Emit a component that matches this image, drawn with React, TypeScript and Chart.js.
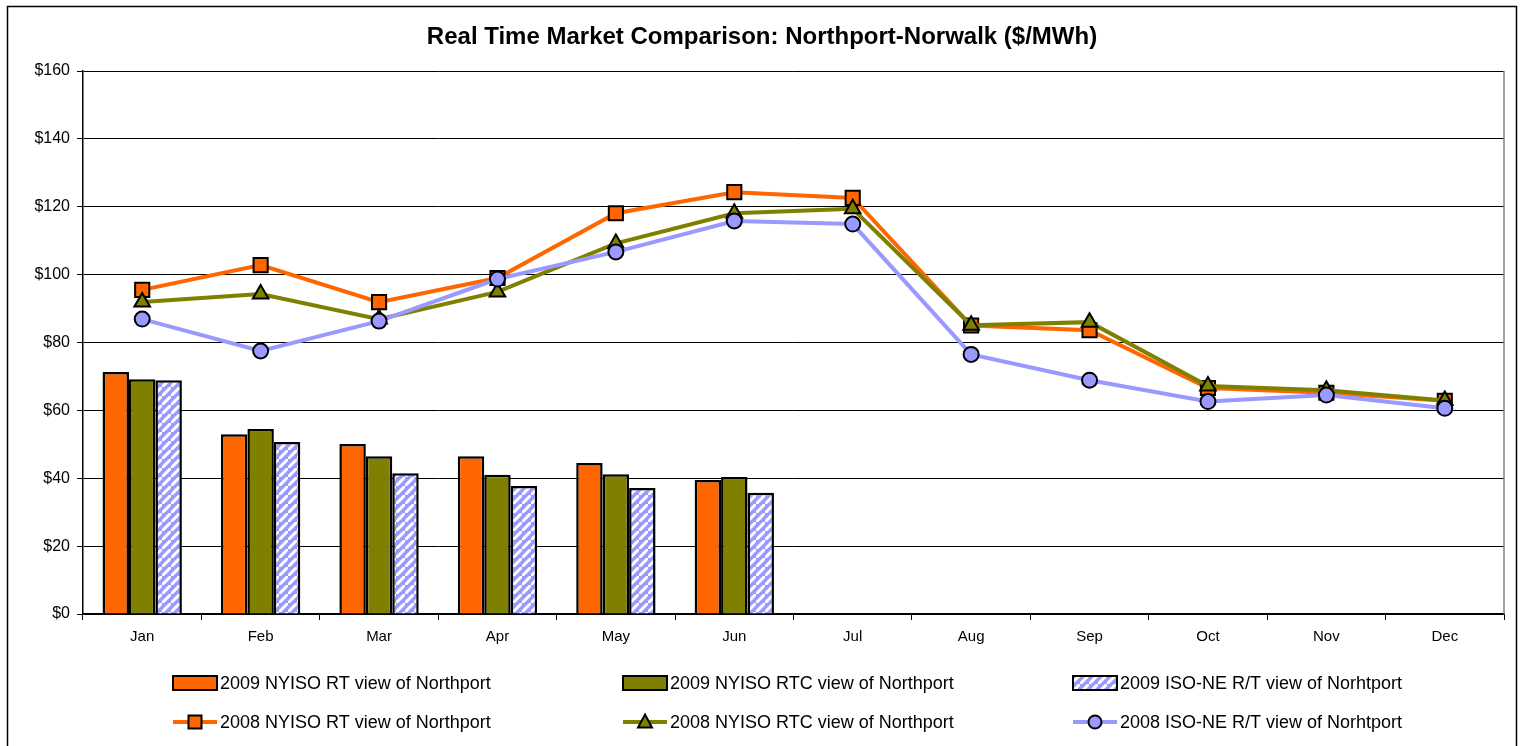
import React, { useEffect, useRef } from "react";
import { Chart, registerables } from "chart.js";

Chart.register(...registerables);

const months = ["Jan", "Feb", "Mar", "Apr", "May", "Jun", "Jul", "Aug", "Sep", "Oct", "Nov", "Dec"];
const yTicks = [0, 20, 40, 60, 80, 100, 120, 140, 160];

const rt2009 = [71.3, 53.0, 50.1, 46.5, 44.5, 39.5];
const rtc2009 = [69.2, 54.5, 46.5, 41.0, 41.2, 40.4];
const isone2009 = [68.9, 50.7, 41.5, 37.7, 37.1, 35.7];

const rt2008 = [95.5, 102.8, 91.9, 99.0, 118.1, 124.3, 122.6, 85.0, 83.6, 66.6, 65.2, 62.8];
const rtc2008 = [91.9, 94.3, 86.9, 94.9, 109.2, 118.1, 119.4, 85.1, 86.0, 67.2, 65.9, 62.9];
const isone2008 = [86.9, 77.5, 86.3, 98.7, 106.7, 115.8, 114.9, 76.5, 68.9, 62.6, 64.5, 60.6];

const labels2009 = [
  "2009 NYISO RT view of Northport",
  "2009 NYISO RTC view of Northport",
  "2009 ISO-NE R/T view of Norhtport",
];
const labels2008 = [
  "2008 NYISO RT view of Northport",
  "2008 NYISO RTC view of Northport",
  "2008 ISO-NE R/T view of Norhtport",
];

const ORANGE = "#FF6600";
const OLIVE = "#808000";
const LAV = "#9999FF";
const FONT = "Liberation Sans, Arial, sans-serif";

function makeHatch(): CanvasPattern | string {
  const c = document.createElement("canvas");
  const n = 9;
  c.width = n;
  c.height = n;
  const g = c.getContext("2d");
  if (!g) return LAV;
  g.fillStyle = LAV;
  g.fillRect(0, 0, n, n);
  g.strokeStyle = "#ffffff";
  g.lineWidth = 3;
  g.beginPath();
  g.moveTo(-2, n + 2);
  g.lineTo(n + 2, -2);
  g.moveTo(-n - 2, n + 2 - n);
  g.lineTo(n + 2 - n, -2 - n);
  g.moveTo(-2 + n, n + 2 + n);
  g.lineTo(n + 2 + n, -2 + n);
  g.stroke();
  const p = g.createPattern(c, "repeat");
  return p || LAV;
}

function drawMarker(ctx: CanvasRenderingContext2D, style: string, x: number, y: number, fill: string) {
  ctx.save();
  ctx.fillStyle = fill;
  ctx.strokeStyle = "#000";
  ctx.lineWidth = 2;
  ctx.beginPath();
  if (style === "rect") {
    ctx.rect(x - 6.5, y - 6.5, 13, 13);
  } else if (style === "triangle") {
    ctx.moveTo(x, y - 7.5);
    ctx.lineTo(x + 7, y + 5.5);
    ctx.lineTo(x - 7, y + 5.5);
    ctx.closePath();
  } else {
    ctx.arc(x, y, 6.5, 0, Math.PI * 2);
  }
  ctx.fill();
  ctx.stroke();
  ctx.restore();
}

export default function App() {
  const ref = useRef<HTMLCanvasElement | null>(null);

  useEffect(() => {
    const canvas = ref.current;
    if (!canvas) return;
    const hatch = makeHatch();

    const framePlugin = {
      id: "frame",
      beforeDraw(chart: any) {
        const ctx = chart.ctx;
        ctx.save();
        ctx.fillStyle = "#fff";
        ctx.fillRect(0, 0, chart.width, chart.height);
        ctx.strokeStyle = "#000";
        ctx.lineWidth = 1.5;
        ctx.strokeRect(7.5, 6.5, 1509, 760);
        ctx.fillStyle = "#000";
        ctx.font = `bold 24px ${FONT}`;
        ctx.textAlign = "center";
        ctx.textBaseline = "middle";
        ctx.fillText("Real Time Market Comparison: Northport-Norwalk ($/MWh)", 762, 37);
        ctx.restore();
      },
      afterDraw(chart: any) {
        const ctx = chart.ctx;
        const a = chart.chartArea;
        ctx.save();
        ctx.strokeStyle = "#808080";
        ctx.lineWidth = 1.5;
        ctx.beginPath();
        ctx.moveTo(a.right, a.top);
        ctx.lineTo(a.right, a.bottom);
        ctx.stroke();

        // legend
        const cols = [173, 623, 1073];
        const rows = [683, 722];
        ctx.font = `18px ${FONT}`;
        ctx.textBaseline = "middle";
        ctx.textAlign = "left";
        const barFills: any[] = [ORANGE, OLIVE, hatch];
        const lineCols = [ORANGE, OLIVE, LAV];
        const styles = ["rect", "triangle", "circle"];
        for (let i = 0; i < 3; i++) {
          const x = cols[i];
          let y = rows[0];
          ctx.fillStyle = barFills[i];
          ctx.fillRect(x, y - 7, 44, 14);
          ctx.strokeStyle = "#000";
          ctx.lineWidth = 2;
          ctx.strokeRect(x, y - 7, 44, 14);
          ctx.fillStyle = "#000";
          ctx.fillText(labels2009[i], x + 47, y + 1);

          y = rows[1];
          ctx.strokeStyle = lineCols[i];
          ctx.lineWidth = 4;
          ctx.beginPath();
          ctx.moveTo(x, y);
          ctx.lineTo(x + 44, y);
          ctx.stroke();
          drawMarker(ctx, styles[i], x + 22, y, lineCols[i]);
          ctx.fillStyle = "#000";
          ctx.fillText(labels2008[i], x + 47, y + 1);
        }
        ctx.restore();
      },
    };

    const barDs = (label: string, data: number[], bg: any, order: number) => ({
      type: "bar" as const,
      label,
      data,
      backgroundColor: bg,
      borderColor: "#000",
      borderWidth: 2.5,
      categoryPercentage: 0.67,
      barPercentage: 1.0,
      order,
    });
    const lineDs = (label: string, data: number[], color: string, style: string, radius: number, order: number) => ({
      type: "line" as const,
      label,
      data,
      borderColor: color,
      backgroundColor: color,
      borderWidth: 4,
      pointStyle: style,
      pointRadius: radius,
      pointBorderColor: "#000",
      pointBorderWidth: 2,
      pointBackgroundColor: color,
      tension: 0,
      order,
    });

    const chart = new Chart(canvas, {
      type: "bar",
      data: {
        labels: months,
        datasets: [
          barDs(labels2009[0], rt2009, ORANGE, 10),
          barDs(labels2009[1], rtc2009, OLIVE, 11),
          barDs(labels2009[2], isone2009, hatch, 12),
          lineDs(labels2008[0], rt2008, ORANGE, "rect", 10, 3),
          lineDs(labels2008[1], rtc2008, OLIVE, "triangle", 9, 2),
          lineDs(labels2008[2], isone2008, LAV, "circle", 7.5, 1),
        ] as any,
      },
      plugins: [framePlugin],
      options: {
        responsive: false,
        animation: false,
        layout: { padding: { top: 71, left: 0, right: 18, bottom: 0 } },
        plugins: {
          legend: { display: false },
          title: { display: false },
          tooltip: { enabled: false },
        },
        scales: {
          x: {
            offset: true,
            grid: {
              offset: true,
              drawOnChartArea: false,
              drawTicks: true,
              tickLength: 6,
              color: "#000",
            },
            border: { display: true, color: "#000", width: 1.5 },
            ticks: {
              color: "#000",
              font: { family: FONT, size: 15 },
              padding: 8,
              maxRotation: 0,
            },
            afterFit: (s: any) => {
              s.height = 132;
            },
          },
          y: {
            min: 0,
            max: 160,
            afterBuildTicks: (s: any) => {
              s.ticks = yTicks.map((v) => ({ value: v }));
            },
            grid: {
              color: "#000",
              lineWidth: 1,
              tickLength: 6,
              drawTicks: true,
            },
            border: { display: true, color: "#000", width: 1.5 },
            ticks: {
              color: "#000",
              font: { family: FONT, size: 16 },
              padding: 7,
              callback: (v: any) => "$" + v,
            },
            afterFit: (s: any) => {
              s.width = 83;
            },
          },
        },
      } as any,
    });
    return () => chart.destroy();
  }, []);

  return (
    <div style={{ position: "absolute", left: 0, top: 0, width: 1522, height: 746 }}>
      <canvas ref={ref} width={1522} height={746} style={{ display: "block" }} />
    </div>
  );
}
